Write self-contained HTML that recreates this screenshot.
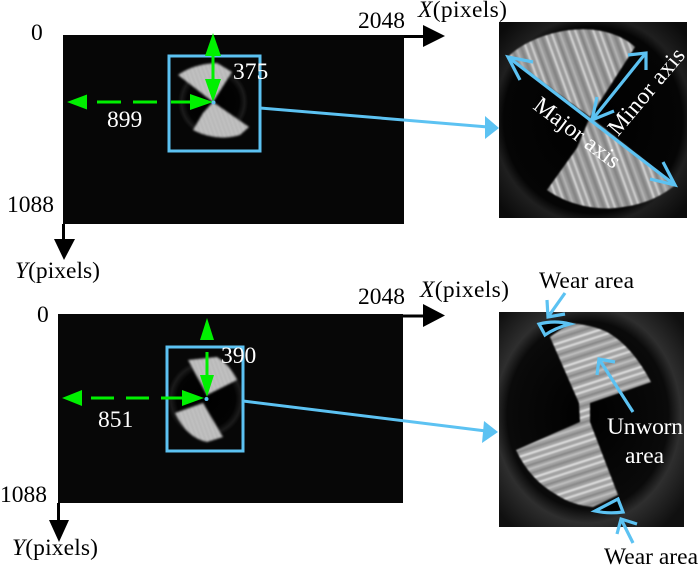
<!DOCTYPE html>
<html><head><meta charset="utf-8"><style>
html,body{margin:0;padding:0;background:#fff}
svg{display:block}
text{font-family:"Liberation Serif",serif;font-size:23.5px}
</style></head><body>
<svg width="700" height="567" viewBox="0 0 700 567" xmlns="http://www.w3.org/2000/svg">
<defs>
<radialGradient id="g1" cx="50%" cy="50%" r="50%"><stop offset="0" stop-color="#000"/><stop offset=".75" stop-color="#030303"/><stop offset=".9" stop-color="#1a1a1a"/><stop offset="1" stop-color="#070707"/></radialGradient>
<radialGradient id="g2" cx="50%" cy="50%" r="66%"><stop offset="0" stop-color="#000"/><stop offset=".72" stop-color="#050505"/><stop offset=".8" stop-color="#1f1f1f"/><stop offset="1" stop-color="#0b0b0b"/></radialGradient>
<radialGradient id="g3" cx="48%" cy="48%" r="66%"><stop offset="0" stop-color="#000"/><stop offset=".66" stop-color="#0a0a0a"/><stop offset=".76" stop-color="#2e2e2e"/><stop offset="1" stop-color="#101010"/></radialGradient>
<pattern id="s1" width="23" height="23" patternUnits="userSpaceOnUse" patternTransform="rotate(-20)"><rect width="23" height="23" fill="#9a9a9a"/><rect width="2" height="23" fill="#cfcfcf"/><rect x="4" width="2" height="23" fill="#808080"/><rect x="8" width="1.6" height="23" fill="#b8b8b8"/><rect x="12" width="3" height="23" fill="#858585"/><rect x="17" width="2" height="23" fill="#d4d4d4"/></pattern>
<pattern id="s2" width="24" height="24" patternUnits="userSpaceOnUse" patternTransform="rotate(-18)"><rect width="24" height="24" fill="#a2a2a2"/><rect height="2" width="24" fill="#dcdcdc"/><rect y="5" height="2" width="24" fill="#868686"/><rect y="9" height="1.6" width="24" fill="#c4c4c4"/><rect y="13" height="2.5" width="24" fill="#8a8a8a"/><rect y="18" height="2" width="24" fill="#e0e0e0"/></pattern>
<pattern id="s3" width="4" height="4" patternUnits="userSpaceOnUse" patternTransform="rotate(-20)"><rect width="4" height="4" fill="#b4b4b4"/><rect width="1.2" height="4" fill="#d0d0d0"/></pattern>
<filter id="b1"><feGaussianBlur stdDeviation="0.9"/></filter>
<filter id="b2"><feGaussianBlur stdDeviation="1.1"/></filter>
</defs>

<!-- top left image -->
<rect x="63" y="35" width="341" height="189" fill="#060606"/>
<circle cx="213" cy="102" r="35" fill="url(#g1)"/>
<g filter="url(#b2)" fill="url(#s3)">
<path d="M178,75 Q193,64 217,63 L232,72 L213,102 Z"/>
<path d="M249,127 L240,135 Q217,142 193,130 L203,113 L213,102 Z"/>
</g>

<!-- bottom left image -->
<rect x="58" y="314" width="345" height="189" fill="#070707"/>
<circle cx="206" cy="399" r="39" fill="url(#g1)"/>
<g filter="url(#b2)" fill="url(#s3)">
<path d="M188,360 L217,357 Q230,365 237,380 L207,395 Z"/>
<path d="M175,413 L203,403 L223,437 L207,442 Q187,438 175,413 Z"/>
</g>

<!-- top right image -->
<rect x="499" y="22" width="188" height="196" fill="url(#g2)"/>
<g filter="url(#b1)" fill="url(#s1)">
<path d="M508,57 C520,44 545,33 570,30 C595,27 620,33 635,47 L590,117 Z"/>
<path d="M675,185 C660,198 640,205 623,207 C595,212 565,203 547,190 L577,148 L590,117 Z"/>
</g>

<!-- bottom right image -->
<rect x="499" y="312" width="185" height="215" fill="url(#g3)"/>
<g filter="url(#b1)" fill="url(#s2)">
<path d="M570,323 Q592,325 607,332 Q632,346 651,382 L590,403 L590,422 L618,495 L593,507 Q572,505 557,495 Q530,480 516,450 L580,422 L579,403 L550,337 Z"/>
</g>

<!-- black axes -->
<g stroke="#000" stroke-width="3" fill="#000">
<line x1="404" y1="36.5" x2="428" y2="36.5"/><path d="M445,36 L423,25 V47 Z" stroke="none"/>
<line x1="63.5" y1="224" x2="63.5" y2="242"/><path d="M64,260 L54,239 H75 Z" stroke="none"/>
<line x1="403" y1="316" x2="428" y2="316"/><path d="M445,315.5 L423,304 V327 Z" stroke="none"/>
<line x1="58.5" y1="503" x2="58.5" y2="523"/><path d="M59,542 L49,520 H69 Z" stroke="none"/>
</g>

<!-- cyan boxes and connectors -->
<g fill="none" stroke="#5cc2f2" stroke-width="3">
<rect x="169" y="56" width="91" height="95"/>
<rect x="167" y="347" width="76" height="104"/>
<line x1="260" y1="108" x2="488" y2="127"/>
<line x1="243" y1="401" x2="486" y2="431"/>
</g>
<path d="M499,128 L485,116 V139 Z M498,432 L484,421 L482,443 Z" fill="#5cc2f2"/>

<!-- green markers -->
<g fill="#00f000" stroke="none">
<path d="M67,102 L87,94.5 V109.5 Z M213,102 L190,94 V110 Z"/>
<path d="M213,33 L205,56 H221 Z M213,102 L205,79 H221 Z"/>
<path d="M62,398 L82,390 V406 Z M204,398 L182,390 V406 Z"/>
<path d="M207,318 L200,340 H214 Z M207,397 L200,375 H214 Z"/>
</g>
<g stroke="#00f000" stroke-width="3" fill="none">
<line x1="97" y1="102" x2="121" y2="102"/>
<line x1="133" y1="102" x2="157" y2="102"/>
<line x1="171" y1="102" x2="190" y2="102"/>
<line x1="213" y1="56" x2="213" y2="79"/>
<line x1="91" y1="398" x2="114" y2="398"/>
<line x1="126" y1="398" x2="149" y2="398"/>
<line x1="161" y1="398" x2="182" y2="398"/>
<line x1="207" y1="352" x2="207" y2="375"/>
</g>
<circle cx="213.5" cy="102.5" r="2" fill="#5cc2f2"/>
<circle cx="206.5" cy="399" r="2" fill="#5cc2f2"/>

<!-- axis annotations top right -->
<g fill="none" stroke="#5cc2f2" stroke-width="3.2">
<path d="M508,57 L675,185"/>
<path d="M533,62 L508,57 L520,80"/>
<path d="M650,179 L675,185 L663,162"/>
<path d="M592,120 L645,54"/>
<path d="M614,111 L592,120 L597,97"/>
<path d="M646,70 L646,53 L628,55"/>
<!-- bottom right -->
<path d="M539,324 Q555,320 570,324 Q555,328 545,335 Z" fill="#000"/>
<path d="M565,293 L548,317"/>
<path d="M547,300 L548,317 L565,314"/>
<path d="M595,511 L618,499 L623,512 Q608,514 595,511 Z" fill="#000"/>
<path d="M633,543 L621,519"/>
<path d="M617,534 L621,519 L637,524"/>
<path d="M633,412 L599,359"/>
<path d="M597,375 L599,359 L615,362"/>
</g>

<!-- labels -->
<text x="358" y="28">2048</text>
<text x="418" y="17" textLength="89"><tspan font-style="italic">X</tspan>(pixels)</text>
<text x="31" y="40">0</text>
<text x="7" y="212">1088</text>
<text x="15" y="278" textLength="85"><tspan font-style="italic">Y</tspan>(pixels)</text>
<text x="358" y="304">2048</text>
<text x="420" y="297" textLength="89"><tspan font-style="italic">X</tspan>(pixels)</text>
<text x="37" y="322">0</text>
<text x="0" y="502">1088</text>
<text x="12" y="555" textLength="86"><tspan font-style="italic">Y</tspan>(pixels)</text>
<text x="539" y="288" textLength="95">Wear area</text>
<text x="604" y="564" textLength="94">Wear area</text>
<g fill="#fff">
<text x="107" y="127">899</text>
<text x="233" y="79">375</text>
<text x="98" y="427">851</text>
<text x="221" y="363">390</text>
<text x="607" y="434" textLength="76">Unworn</text>
<text x="625" y="463">area</text>
<text transform="translate(532,108) rotate(37)" textLength="102">Major axis</text>
<text transform="translate(618,137) rotate(-50)" textLength="106">Minor axis</text>
</g>
</svg>
</body></html>
